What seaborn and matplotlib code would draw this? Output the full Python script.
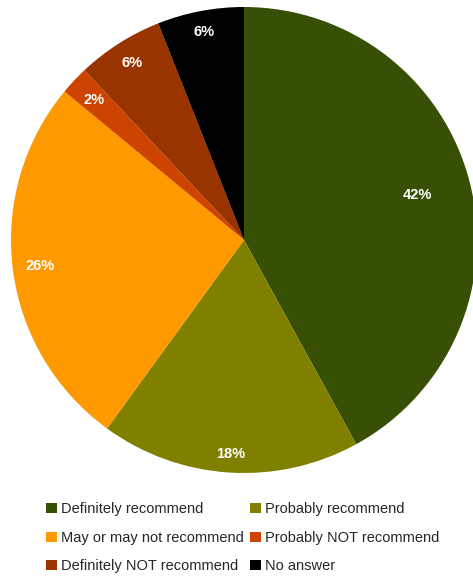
import matplotlib
matplotlib.use("Agg")
import matplotlib.pyplot as plt
import seaborn as sns
import numpy as np
from matplotlib.patches import Patch

categories = ["Definitely recommend", "Probably recommend", "May or may not recommend",
              "Probably NOT recommend", "Definitely NOT recommend", "No answer"]
values = [42, 18, 26, 2, 6, 6]
colors = ["#385005", "#808000", "#ff9900", "#cc4400", "#993300", "#000000"]
label_dist = [0.77, 0.92, 0.88, 0.88, 0.9, 0.91]

sns.set_theme(style="white")
plt.rcParams['font.family'] = ['Liberation Sans', 'DejaVu Sans']

fig = plt.figure(figsize=(4.73, 5.78), dpi=100)
ax = fig.add_axes([11/473, 1 - 473/578, 466/473, 466/578])
wedges, texts = ax.pie(values, colors=colors, startangle=90, counterclock=False,
                       wedgeprops=dict(linewidth=0))
total = sum(values)
for w, v, d in zip(wedges, values, label_dist):
    ang = np.deg2rad((w.theta1 + w.theta2) / 2)
    ax.text(d * np.cos(ang), d * np.sin(ang), f"{v / total * 100:.0f}%",
            ha="center", va="center", color="white", fontsize=10.5, fontweight="bold")
ax.set_aspect("equal")
ax.set_xlim(-1, 1)
ax.set_ylim(-1, 1)
ax.axis("off")

order = [0, 2, 4, 1, 3, 5]
handles = [Patch(facecolor=colors[i], edgecolor="none") for i in order]
labels = [categories[i] for i in order]
fig.legend(handles, labels, ncol=2, loc="upper left", bbox_to_anchor=(39/473, 1 - 495/578),
           frameon=False, fontsize=10.5, handlelength=0.7, handleheight=0.7,
           handletextpad=0.3, columnspacing=0.45, labelspacing=1.0, borderpad=0)
fig.savefig("out.png", dpi=100)
